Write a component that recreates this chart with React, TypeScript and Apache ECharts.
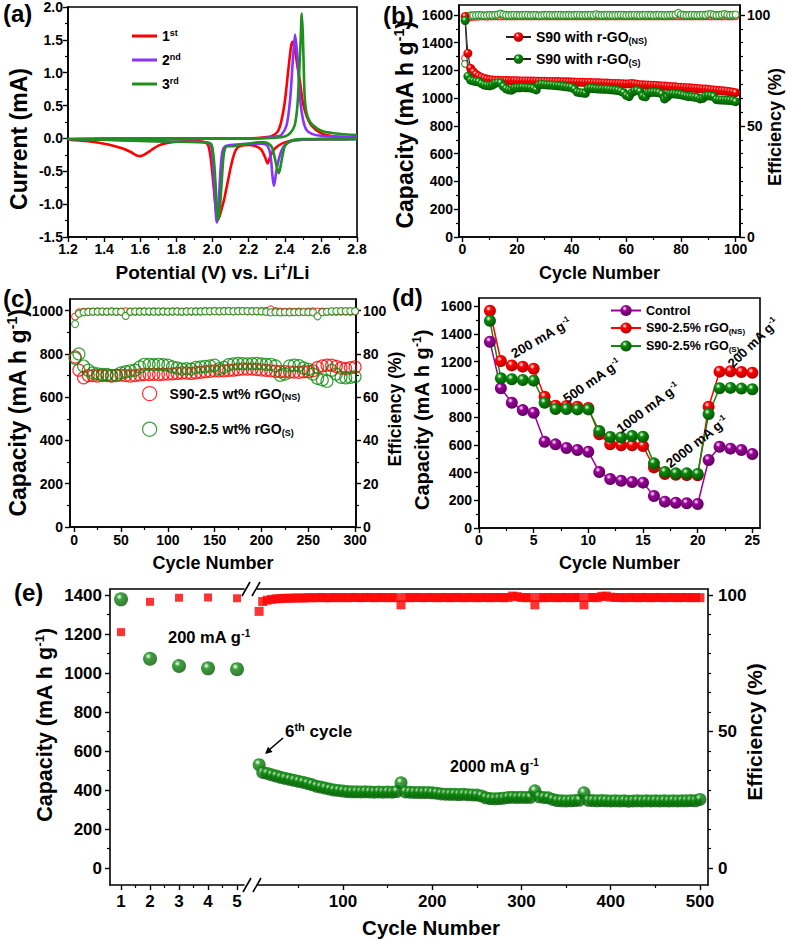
import React, { useEffect, useRef } from 'react';
import * as echarts from 'echarts';

const FONT = '"Liberation Sans", Arial, Helvetica, sans-serif';
const BLACK = '#000000';
const RED = '#ff0000';
const GREEN = '#0a8a0a';
const VIOLET = '#8833ff';
const CV_GREEN = '#1f8f1f';
const PURPLE = '#990099';

// ---------------- (a) cyclic voltammetry (cathodic sweep then anodic sweep) ----------------
const cv1Potential = [2.75, 2.6, 2.5, 2.45, 2.4, 2.37, 2.34, 2.32, 2.305, 2.29, 2.27, 2.24, 2.2, 2.15, 2.13, 2.115, 2.1, 2.08, 2.065, 2.05, 2.04, 2.032, 2.022, 2.012, 2.0, 1.99, 1.98, 1.97, 1.95, 1.9, 1.8, 1.75, 1.7, 1.66, 1.62, 1.6, 1.58, 1.55, 1.5, 1.45, 1.4, 1.3, 1.2,
  1.2, 1.4, 1.6, 1.8, 2.0, 2.2, 2.3, 2.33, 2.36, 2.38, 2.4, 2.42, 2.435, 2.443, 2.455, 2.47, 2.485, 2.5, 2.52, 2.55, 2.6, 2.65, 2.7, 2.75];
const cv1Current = [-0.01, -0.01, -0.02, -0.03, -0.06, -0.1, -0.17, -0.27, -0.38, -0.28, -0.17, -0.12, -0.1, -0.12, -0.17, -0.28, -0.45, -0.72, -0.92, -1.08, -1.18, -1.22, -1.15, -0.9, -0.55, -0.3, -0.14, -0.08, -0.05, -0.04, -0.05, -0.07, -0.11, -0.18, -0.25, -0.27, -0.26, -0.21, -0.15, -0.11, -0.08, -0.04, -0.02,
  -0.02, -0.01, 0.0, 0.0, 0.0, 0.0, 0.02, 0.04, 0.1, 0.25, 0.55, 1.05, 1.4, 1.47, 1.38, 1.1, 0.85, 0.55, 0.35, 0.19, 0.08, 0.04, 0.02, 0.01];
const cv2Potential = [2.8, 2.6, 2.5, 2.45, 2.42, 2.4, 2.38, 2.36, 2.345, 2.34, 2.333, 2.325, 2.315, 2.3, 2.27, 2.2, 2.15, 2.1, 2.07, 2.055, 2.045, 2.037, 2.03, 2.025, 2.02, 2.013, 2.005, 1.998, 1.99, 1.97, 1.9, 1.8, 1.6, 1.4, 1.2,
  1.2, 1.6, 2.0, 2.2, 2.3, 2.35, 2.38, 2.41, 2.43, 2.445, 2.457, 2.47, 2.485, 2.5, 2.52, 2.55, 2.6, 2.7, 2.8];
const cv2Current = [-0.01, -0.01, -0.02, -0.03, -0.06, -0.1, -0.2, -0.4, -0.65, -0.72, -0.6, -0.35, -0.18, -0.1, -0.08, -0.08, -0.09, -0.1, -0.12, -0.2, -0.45, -0.85, -1.15, -1.28, -1.2, -0.9, -0.5, -0.22, -0.1, -0.06, -0.05, -0.05, -0.03, -0.02, -0.01,
  -0.01, 0.0, 0.0, 0.0, 0.01, 0.03, 0.05, 0.2, 0.6, 1.2, 1.58, 1.25, 0.6, 0.3, 0.13, 0.07, 0.04, 0.03, 0.02];
const cv3Potential = [2.8, 2.6, 2.5, 2.45, 2.42, 2.4, 2.385, 2.375, 2.367, 2.357, 2.345, 2.33, 2.31, 2.28, 2.25, 2.2, 2.15, 2.1, 2.085, 2.07, 2.06, 2.05, 2.04, 2.032, 2.025, 2.018, 2.01, 2.0, 1.99, 1.95, 1.8, 1.6, 1.4, 1.2,
  1.2, 1.6, 2.0, 2.2, 2.35, 2.4, 2.43, 2.455, 2.47, 2.48, 2.488, 2.494, 2.5, 2.505, 2.51, 2.52, 2.54, 2.58, 2.62, 2.67, 2.75, 2.8];
const cv3Current = [-0.01, -0.01, -0.01, -0.02, -0.06, -0.12, -0.3, -0.45, -0.53, -0.45, -0.3, -0.14, -0.08, -0.06, -0.06, -0.08, -0.1, -0.12, -0.12, -0.15, -0.3, -0.7, -1.1, -1.24, -1.1, -0.75, -0.4, -0.15, -0.08, -0.06, -0.05, -0.04, -0.02, -0.01,
  -0.01, 0.0, 0.0, 0.0, 0.01, 0.03, 0.08, 0.2, 0.5, 1.0, 1.5, 1.9, 1.6, 1.1, 0.65, 0.4, 0.25, 0.15, 0.1, 0.08, 0.06, 0.05];
const cvNames = ['1st', '2nd', '3rd'];
const cvLegendLabels = ['1{sup|st}', '2{sup|nd}', '3{sup|rd}'];
const aXTicks = [1.2, 1.4, 1.6, 1.8, 2.0, 2.2, 2.4, 2.6, 2.8];
const aXMinor = [1.3, 1.5, 1.7, 1.9, 2.1, 2.3, 2.5, 2.7];
const aYTicks = [-1.5, -1.0, -0.5, 0.0, 0.5, 1.0, 1.5, 2.0];
const aYMinor = [-1.25, -0.75, -0.25, 0.25, 0.75, 1.25, 1.75];

// ---------------- (b) cycling at each cycle 1..100 ----------------
const bCapNS = [1590, 1324, 1216, 1190, 1172, 1160, 1150, 1143, 1138, 1134,
  1132, 1130, 1130, 1128, 1128, 1127, 1127, 1126, 1126, 1126,
  1125, 1125, 1125, 1124, 1124, 1124, 1123, 1123, 1122, 1122,
  1121, 1121, 1120, 1120, 1120, 1119, 1119, 1118, 1118, 1117,
  1117, 1116, 1116, 1115, 1114, 1114, 1113, 1112, 1112, 1111,
  1110, 1110, 1109, 1108, 1107, 1106, 1106, 1105, 1104, 1103,
  1104, 1106, 1104, 1100, 1098, 1097, 1096, 1095, 1094, 1093,
  1092, 1090, 1089, 1088, 1086, 1085, 1083, 1082, 1080, 1079,
  1078, 1076, 1075, 1073, 1072, 1070, 1069, 1067, 1066, 1064,
  1062, 1060, 1058, 1056, 1054, 1052, 1050, 1047, 1044, 1040];
const bCapS = [1560, 1158, 1130, 1125, 1120, 1118, 1105, 1095, 1092, 1090,
  1095, 1108, 1112, 1110, 1085, 1068, 1060, 1058, 1072, 1075,
  1075, 1078, 1076, 1075, 1074, 1070, 1060, 1095, 1100, 1098,
  1096, 1095, 1094, 1092, 1090, 1088, 1085, 1082, 1080, 1078,
  1065, 1045, 1040, 1038, 1036, 1068, 1072, 1070, 1068, 1066,
  1066, 1064, 1065, 1062, 1060, 1058, 1055, 1050, 1040, 1020,
  1012, 1040, 1052, 1055, 1048, 1015, 1010, 1038, 1042, 1043,
  1042, 1040, 1030, 995, 1010, 1030, 1032, 1030, 1028, 1025,
  1020, 1015, 1012, 1010, 1008, 1005, 995, 1000, 1015, 1018,
  1016, 1012, 990, 988, 987, 986, 985, 984, 982, 975];
const bEffNS = [80.5, 98.7, 99.1, 99.2, 99.3, 99.3, 99.4, 99.4, 99.3, 99.4,
  99.4, 99.5, 99.4, 99.4, 99.5, 99.4, 99.5, 99.4, 99.4, 99.5,
  99.5, 99.4, 99.5, 99.5, 99.4, 99.5, 99.5, 99.4, 99.5, 99.5,
  99.4, 99.5, 99.5, 99.5, 99.4, 99.5, 99.5, 99.4, 99.5, 99.5,
  99.5, 99.4, 99.5, 99.5, 99.5, 99.4, 99.5, 99.5, 99.4, 99.5,
  99.5, 99.5, 99.4, 99.5, 99.5, 99.4, 99.5, 99.5, 99.5, 99.4,
  99.5, 99.5, 99.4, 99.5, 99.5, 99.5, 99.4, 99.5, 99.5, 99.4,
  99.5, 99.5, 99.5, 99.4, 99.5, 99.5, 99.4, 99.5, 99.5, 99.5,
  99.4, 99.5, 99.5, 99.4, 99.5, 99.5, 99.5, 99.4, 99.5, 99.5,
  99.4, 99.5, 99.5, 99.5, 99.4, 99.5, 99.5, 99.4, 99.5, 99.5];
const bEffS = [78.0, 99.5, 99.8, 99.9, 99.9, 100.0, 99.9, 99.8, 99.9, 100.0,
  99.9, 100.1, 100.2, 100.6, 100.2, 100.0, 99.9, 100.0, 100.1, 100.0,
  99.9, 100.0, 100.1, 100.0, 99.9, 100.0, 100.0, 99.8, 99.9, 100.0,
  100.1, 100.0, 99.9, 100.0, 100.1, 100.0, 99.9, 100.0, 100.0, 99.9,
  100.0, 100.1, 100.0, 99.9, 100.0, 100.0, 100.1, 100.0, 100.3, 100.0,
  99.9, 100.0, 100.1, 100.0, 99.9, 100.0, 100.0, 100.1, 100.0, 99.9,
  100.0, 100.0, 100.1, 100.0, 99.9, 100.0, 100.1, 100.0, 100.0, 99.9,
  100.0, 100.1, 100.0, 99.9, 100.0, 100.0, 100.1, 100.2, 100.9, 100.2,
  100.0, 99.9, 100.0, 100.1, 100.0, 99.9, 100.0, 100.1, 100.0, 100.3,
  100.4, 100.1, 99.9, 100.0, 100.2, 100.4, 100.1, 100.0, 100.1, 100.2];
const bNames = ['S90 with r-GO(NS)', 'S90 with r-GO(S)'];
const bXTicks = [0, 20, 40, 60, 80, 100];
const bXMinor = [10, 30, 50, 70, 90];
const bYTicks = [0, 200, 400, 600, 800, 1000, 1200, 1400, 1600];
const bYMinor = [100, 300, 500, 700, 900, 1100, 1300, 1500];
const bRTicks = [0, 50, 100];
const bRMinor = [6.25, 12.5, 18.75, 25, 31.25, 37.5, 43.75, 56.25, 62.5, 68.75, 75, 81.25, 87.5, 93.75];

// ---------------- (c) 300 cycles, read at cycles 1, 5, 10 ... 300 ----------------
const cCycles = [1, ...Array.from({ length: 60 }, (_, i) => (i + 1) * 5)];
const cCapNS = [786, 725, 690, 700, 700, 698, 700, 700, 698, 700,
  702, 700, 698, 700, 703, 705, 705, 706, 705, 706,
  707, 708, 710, 712, 712, 710, 713, 715, 718, 720,
  722, 722, 722, 724, 725, 728, 730, 730, 730, 728,
  726, 724, 722, 720, 718, 718, 716, 716, 715, 717,
  718, 722, 738, 745, 748, 748, 742, 735, 732, 736, 740];
const cCapS = [780, 800, 744, 725, 712, 708, 705, 705, 700, 702,
  712, 718, 722, 725, 740, 752, 752, 750, 752, 750,
  748, 740, 735, 730, 732, 730, 738, 740, 742, 745,
  748, 732, 738, 750, 754, 756, 755, 754, 755, 756,
  754, 752, 752, 745, 701, 707, 745, 748, 746, 735,
  729, 707, 687, 680, 674, 724, 707, 692, 690, 692, 695];
const cEffNS = [97.3, 99.2, 99.5, 99.6, 99.6, 99.7, 99.6, 99.6, 99.7, 99.6,
  99.6, 99.7, 99.6, 99.6, 99.7, 99.7, 99.6, 99.7, 99.6, 99.7,
  99.6, 99.7, 99.7, 99.6, 99.7, 99.6, 99.7, 99.7, 99.8, 99.7,
  99.8, 99.7, 99.8, 99.8, 99.7, 99.8, 99.8, 99.7, 99.8, 99.7,
  99.8, 99.9, 100.6, 99.8, 99.6, 99.5, 99.6, 99.5, 99.6, 99.5,
  99.6, 99.7, 99.6, 99.6, 99.5, 99.6, 99.5, 99.6, 99.6, 99.5, 99.6];
const cEffS = [93.8, 98.6, 99.3, 99.4, 99.5, 99.5, 99.6, 99.5, 99.6, 99.5,
  99.5, 97.6, 99.5, 99.6, 99.5, 99.6, 99.6, 99.5, 99.6, 99.6,
  99.5, 99.6, 99.6, 99.5, 99.6, 99.7, 99.6, 99.6, 99.7, 99.7,
  99.8, 99.7, 99.8, 99.8, 99.7, 99.8, 99.8, 99.8, 99.7, 99.8,
  99.6, 99.4, 99.2, 99.3, 99.2, 99.3, 99.2, 99.3, 99.3, 99.4,
  99.3, 99.2, 97.4, 99.3, 99.5, 99.7, 99.8, 99.8, 99.8, 99.8, 99.8];
const cNames = ['S90-2.5 wt% rGO(NS)', 'S90-2.5 wt% rGO(S)'];
const cXTicks = [0, 50, 100, 150, 200, 250, 300];
const cXMinor = [25, 75, 125, 175, 225, 275];
const cYTicks = [0, 200, 400, 600, 800, 1000];
const cYMinor = [100, 300, 500, 700, 900];
const cRTicks = [0, 20, 40, 60, 80, 100];
const cRMinor = [10, 30, 50, 70, 90];

// ---------------- (d) rate capability ----------------
const dCycles = [1, 2, 3, 4, 5, 6, 7, 8, 9, 10, 11, 12, 13, 14, 15, 16, 17, 18, 19, 20, 21, 22, 23, 24, 25];
const dControl = [1343, 1007, 903, 850, 831, 622, 603, 577, 562, 550, 404, 353, 341, 332, 327, 231, 190, 182, 178, 173, 490, 586, 572, 562, 533];
const dNS = [1566, 1204, 1172, 1163, 1148, 946, 882, 879, 874, 865, 675, 603, 596, 596, 591, 437, 389, 384, 381, 380, 874, 1127, 1130, 1125, 1119];
const dS = [1494, 1079, 1072, 1067, 1062, 903, 858, 858, 855, 855, 699, 656, 653, 663, 658, 466, 404, 394, 394, 389, 822, 1007, 1010, 1005, 1000];
const dNames = ['Control', 'S90-2.5% rGO(NS)', 'S90-2.5% rGO(S)'];
const dXTicks = [0, 5, 10, 15, 20, 25];
const dXMinor = [2.5, 7.5, 12.5, 17.5, 22.5];
const dYTicks = [0, 200, 400, 600, 800, 1000, 1200, 1400, 1600];
const dYMinor = [100, 300, 500, 700, 900, 1100, 1300, 1500];

// ---------------- (e) long cycling ----------------
const eCycles1 = [1, 2, 3, 4, 5];
const eCap1 = [1378, 1073, 1036, 1024, 1020];
const eEff1 = [86.4, 97.5, 99.0, 99.1, 98.8];
const eCycles2 = [6, ...Array.from({ length: 99 }, (_, i) => 10 + i * 5)];
const eCap2 = [530,
  490, 485, 478, 472, 465, 460, 455, 450, 445,
  440, 434, 428, 420, 415, 410, 405, 400, 398, 395,
  392, 391, 391, 390, 391, 390, 389, 390, 389, 390,
  389, 392, 437, 390, 389, 388, 388, 387, 388, 386,
  384, 380, 379, 378, 378, 377, 378, 376, 375, 374,
  370, 360, 356, 355, 356, 358, 362, 363, 362, 363,
  362, 363, 396, 365, 362, 360, 352, 346, 345, 344,
  345, 346, 348, 386, 347, 346, 345, 346, 345, 344,
  345, 344, 345, 343, 344, 345, 344, 345, 344, 345,
  344, 345, 344, 345, 344, 345, 345, 346, 345, 352];
const eEff2 = [94.0,
  97.6, 98.1, 98.4, 98.6, 98.7, 98.8, 98.8, 98.9, 98.9,
  98.9, 99.0, 99.0, 99.0, 99.1, 99.0, 99.0, 99.1, 99.0, 99.1,
  99.0, 99.1, 99.1, 99.0, 99.1, 99.1, 99.0, 99.1, 99.1, 99.0,
  99.1, 99.0, 96.4, 99.1, 99.0, 99.1, 99.1, 99.0, 99.1, 99.1,
  99.0, 99.1, 99.1, 99.0, 99.1, 99.1, 99.0, 99.1, 99.1, 99.0,
  99.1, 99.1, 99.0, 99.1, 99.1, 99.0, 99.1, 99.6, 99.4, 99.1,
  99.0, 99.1, 96.4, 99.1, 99.0, 99.1, 99.1, 99.0, 99.1, 99.1,
  99.0, 99.1, 99.1, 96.4, 99.1, 99.1, 99.0, 99.5, 99.6, 99.2,
  99.1, 99.1, 99.0, 99.1, 99.1, 99.0, 99.1, 99.1, 99.0, 99.1,
  99.1, 99.0, 99.1, 99.1, 99.0, 99.1, 99.1, 99.0, 99.1, 99.0];
const eX1Ticks = [1, 2, 3, 4, 5];
const eX1Minor = [1.5, 2.5, 3.5, 4.5];
const eX2Ticks = [100, 200, 300, 400, 500];
const eX2Minor = [50, 150, 250, 350, 450];
const eYTicks = [0, 200, 400, 600, 800, 1000, 1200, 1400];
const eYMinor = [100, 300, 500, 700, 900, 1100, 1300];
const eRTicks = [0, 50, 100];
const eRMinor = [7.14, 14.29, 21.43, 28.57, 35.71, 42.86, 57.14, 64.29, 71.43, 78.57, 85.71, 92.86];

function rich(size: number) {
  const s = Math.round(size * 0.62);
  const p = Math.round(size * 0.5);
  return {
    sup: { fontSize: s, fontWeight: 'bold', fontFamily: FONT, color: BLACK, fill: BLACK, verticalAlign: 'top', padding: [0, 0, p, 0] },
    sub: { fontSize: s, fontWeight: 'bold', fontFamily: FONT, color: BLACK, fill: BLACK, verticalAlign: 'bottom', padding: [p, 0, 0, 0] },
  };
}

function sphere(c: string, dark: string) {
  return {
    type: 'radial', x: 0.38, y: 0.32, r: 0.72,
    colorStops: [
      { offset: 0, color: '#ffffff' },
      { offset: 0.3, color: c },
      { offset: 1, color: dark },
    ],
  };
}

function subName(n: string) {
  return n.replace(/\((NS|S)\)$/, '{sub|($1)}');
}

function buildOption() {
  const xAxes: any[] = [];
  const yAxes: any[] = [];
  const addAxis = (list: any[], o: any) => {
    const idx = list.length;
    const fs = o.fs ?? 14;
    const nfs = o.nameSize ?? 18;
    list.push({
      type: 'value', gridIndex: o.grid, position: o.pos, min: o.min, max: o.max,
      show: o.show !== false,
      axisLine: { show: o.line !== false, onZero: false, lineStyle: { color: BLACK, width: 1.6 } },
      axisTick: o.ticks ? { show: true, inside: false, length: 5, customValues: o.ticks, lineStyle: { color: BLACK, width: 1.4 } } : { show: false },
      axisLabel: o.labels ? {
        show: true, customValues: o.labels, formatter: o.fmt || ((v: number) => String(v)),
        fontSize: fs, fontWeight: 'bold', fontFamily: FONT, color: BLACK, margin: o.margin ?? 6,
      } : { show: false },
      splitLine: { show: false },
      name: o.name || '', nameLocation: 'middle', nameGap: o.nameGap ?? 30, nameMoveOverlap: false,
      nameTextStyle: { fontSize: nfs, fontWeight: 'bold', fontFamily: FONT, color: BLACK, rich: rich(nfs), padding: o.namePad || 0 },
    });
    if (o.minor) {
      list.push({
        type: 'value', gridIndex: o.grid, position: o.pos, min: o.min, max: o.max,
        axisLine: { show: false, onZero: false },
        axisTick: { show: true, inside: false, length: 3, customValues: o.minor, lineStyle: { color: BLACK, width: 1.2 } },
        axisLabel: { show: false }, splitLine: { show: false },
      });
    }
    return idx;
  };
  const fmt1 = (v: number) => v.toFixed(1);

  // (a)
  const ax = addAxis(xAxes, { grid: 0, pos: 'bottom', min: 1.2, max: 2.8, ticks: aXTicks, labels: aXTicks, minor: aXMinor, fmt: fmt1, margin: 5, name: 'Potential (V) vs. Li{sup|+}/Li', nameGap: 24, nameSize: 19 });
  const ay = addAxis(yAxes, { grid: 0, pos: 'left', min: -1.5, max: 2.0, ticks: aYTicks, labels: aYTicks, minor: aYMinor, fmt: fmt1, margin: 5, name: 'Current (mA)', nameGap: 38, nameSize: 23, namePad: [0, 34, 0, 0] });
  // (b)
  const bx = addAxis(xAxes, { grid: 1, pos: 'bottom', min: -1.25, max: 101.6, ticks: bXTicks, labels: bXTicks, minor: bXMinor, margin: 5, name: 'Cycle Number', nameGap: 27, nameSize: 18 });
  const byL = addAxis(yAxes, { grid: 1, pos: 'left', min: 0, max: 1672, ticks: bYTicks, labels: bYTicks, minor: bYMinor, margin: 6, name: 'Capacity (mA h g{sup|-1})', nameGap: 41, nameSize: 23, namePad: [0, 8, 0, 0] });
  const byR = addAxis(yAxes, { grid: 1, pos: 'right', min: 0, max: 104.5, ticks: bRTicks, labels: bRTicks, minor: bRMinor, margin: 7, name: 'Efficiency (%)', nameGap: 26, nameSize: 18, namePad: [0, 12, 0, 0] });
  // (c)
  const cx = addAxis(xAxes, { grid: 2, pos: 'bottom', min: -4.5, max: 301, ticks: cXTicks, labels: cXTicks, minor: cXMinor, margin: 6, name: 'Cycle Number', nameGap: 27, nameSize: 18 });
  const cyL = addAxis(yAxes, { grid: 2, pos: 'left', min: 0, max: 1054, ticks: cYTicks, labels: cYTicks, minor: cYMinor, margin: 7, name: 'Capacity (mA h g{sup|-1})', nameGap: 39, nameSize: 23 });
  const cyR = addAxis(yAxes, { grid: 2, pos: 'right', min: 0, max: 105.4, ticks: cRTicks, labels: cRTicks, minor: cRMinor, margin: 7, name: 'Efficiency (%)', nameGap: 30, nameSize: 17.5, namePad: [0, 0, 0, 8] });
  // (d)
  const dx = addAxis(xAxes, { grid: 3, pos: 'bottom', min: 0, max: 25.7, ticks: dXTicks, labels: dXTicks, minor: dXMinor, margin: 5, name: 'Cycle Number', nameGap: 26, nameSize: 18 });
  const dy = addAxis(yAxes, { grid: 3, pos: 'left', min: 0, max: 1658, ticks: dYTicks, labels: dYTicks, minor: dYMinor, margin: 7, name: 'Capacity (mA h g{sup|-1})', nameGap: 46, nameSize: 20, namePad: [0, 14, 0, 0] });
  // (e)
  const ex1 = addAxis(xAxes, { grid: 4, pos: 'bottom', min: 0.62, max: 5.24, ticks: eX1Ticks, labels: eX1Ticks, minor: eX1Minor, fs: 17, margin: 8 });
  addAxis(xAxes, { grid: 4, pos: 'top', min: 0.62, max: 5.24 });
  const ex2 = addAxis(xAxes, { grid: 5, pos: 'bottom', min: 3.6, max: 509, ticks: eX2Ticks, labels: eX2Ticks, minor: eX2Minor, fs: 17, margin: 8 });
  addAxis(xAxes, { grid: 5, pos: 'top', min: 3.6, max: 509 });
  const eyCap1 = addAxis(yAxes, { grid: 4, pos: 'left', min: -87, max: 1431, ticks: eYTicks, labels: eYTicks, minor: eYMinor, fs: 17, margin: 8, name: 'Capacity (mA h g{sup|-1})', nameGap: 53, nameSize: 21.5, namePad: [0, 0, 0, 24] });
  const eyEff1 = addAxis(yAxes, { grid: 4, pos: 'right', min: -6.21, max: 102.2, show: false });
  const eyEff2 = addAxis(yAxes, { grid: 5, pos: 'right', min: -6.21, max: 102.2, ticks: eRTicks, labels: eRTicks, minor: eRMinor, fs: 17, margin: 10, name: 'Efficiency (%)', nameGap: 36, nameSize: 21, namePad: [0, 0, 0, 10] });
  const eyCap2 = addAxis(yAxes, { grid: 5, pos: 'left', min: -87, max: 1431, show: false });

  const series: any[] = [];
  // (a)
  const cvSets: any[] = [[cv1Potential, cv1Current, RED], [cv2Potential, cv2Current, VIOLET], [cv3Potential, cv3Current, CV_GREEN]];
  cvSets.forEach(([V, I, col], k) => {
    series.push({
      type: 'line', name: cvNames[k], xAxisIndex: ax, yAxisIndex: ay,
      data: V.map((v: number, i: number) => [v, I[i]]),
      showSymbol: false, symbol: 'none', smooth: 0.25,
      lineStyle: { color: col, width: 2.6 }, itemStyle: { color: col },
    });
  });
  // (b)
  series.push({ type: 'scatter', name: 'b-eff-NS', xAxisIndex: bx, yAxisIndex: byR, data: bEffNS.map((v, i) => [i + 1, v]), symbol: 'circle', symbolSize: 7, itemStyle: { color: '#ffffff', borderColor: RED, borderWidth: 1.2 } });
  series.push({ type: 'scatter', name: 'b-eff-S', xAxisIndex: bx, yAxisIndex: byR, data: bEffS.map((v, i) => [i + 1, v]), symbol: 'circle', symbolSize: 7, itemStyle: { color: '#ffffff', borderColor: GREEN, borderWidth: 1.2 } });
  series.push({ type: 'line', name: bNames[0], xAxisIndex: bx, yAxisIndex: byL, data: bCapNS.map((v, i) => [i + 1, v]), symbol: 'circle', symbolSize: 9, showAllSymbol: true, lineStyle: { color: '#222', width: 1 }, itemStyle: { color: sphere(RED, '#b00000') } });
  series.push({ type: 'line', name: bNames[1], xAxisIndex: bx, yAxisIndex: byL, data: bCapS.map((v, i) => [i + 1, v]), symbol: 'circle', symbolSize: 9, showAllSymbol: true, lineStyle: { color: '#222', width: 1 }, itemStyle: { color: sphere(GREEN, '#055205') } });
  // (c)
  series.push({ type: 'scatter', name: 'c-eff-NS', xAxisIndex: cx, yAxisIndex: cyR, data: cEffNS.map((v, i) => [cCycles[i], v]), symbol: 'circle', symbolSize: 7, itemStyle: { color: '#ffffff', borderColor: RED, borderWidth: 1.1 } });
  series.push({ type: 'scatter', name: 'c-eff-S', xAxisIndex: cx, yAxisIndex: cyR, data: cEffS.map((v, i) => [cCycles[i], v]), symbol: 'circle', symbolSize: 7, itemStyle: { color: '#ffffff', borderColor: GREEN, borderWidth: 1.1 } });
  series.push({ type: 'scatter', name: cNames[0], xAxisIndex: cx, yAxisIndex: cyL, data: cCapNS.map((v, i) => [cCycles[i], v]), symbol: 'circle', symbolSize: 12, itemStyle: { color: 'rgba(255,255,255,0)', borderColor: RED, borderWidth: 1.2 } });
  series.push({ type: 'scatter', name: cNames[1], xAxisIndex: cx, yAxisIndex: cyL, data: cCapS.map((v, i) => [cCycles[i], v]), symbol: 'circle', symbolSize: 12, itemStyle: { color: 'rgba(255,255,255,0)', borderColor: GREEN, borderWidth: 1.2 } });
  // (d)
  const dSets: any[] = [[dControl, PURPLE, '#5a005a'], [dNS, RED, '#b00000'], [dS, GREEN, '#055205']];
  dSets.forEach(([vals, col, dark], k) => {
    series.push({
      type: 'line', name: dNames[k], xAxisIndex: dx, yAxisIndex: dy,
      data: vals.map((v: number, i: number) => [dCycles[i], v]),
      symbol: 'circle', symbolSize: 12, lineStyle: { color: col, width: 1.5 }, itemStyle: { color: sphere(col, dark) },
    });
  });
  // (e)
  series.push({ type: 'scatter', name: 'e-eff-1', xAxisIndex: ex1, yAxisIndex: eyEff1, data: eEff1.map((v, i) => [eCycles1[i], v]), symbol: 'rect', symbolSize: 8, itemStyle: { color: RED } });
  series.push({ type: 'scatter', name: 'e-cap-1', xAxisIndex: ex1, yAxisIndex: eyCap1, data: eCap1.map((v, i) => [eCycles1[i], v]), symbol: 'circle', symbolSize: 14, itemStyle: { color: sphere(GREEN, '#055205') } });
  series.push({ type: 'scatter', name: 'e-eff-2', xAxisIndex: ex2, yAxisIndex: eyEff2, data: eEff2.map((v, i) => [eCycles2[i], v]), symbol: 'rect', symbolSize: 9, itemStyle: { color: RED } });
  series.push({ type: 'scatter', name: 'e-cap-2', xAxisIndex: ex2, yAxisIndex: eyCap2, data: eCap2.map((v, i) => [eCycles2[i], v]), symbol: 'circle', symbolSize: 13, itemStyle: { color: sphere(GREEN, '#055205') } });

  const legendText = (size: number) => ({ fontSize: size, fontWeight: 'bold', fontFamily: FONT, color: BLACK, rich: rich(size) });
  const legend = [
    {
      data: cvNames, orient: 'vertical', left: 127, top: 23, itemWidth: 25, itemHeight: 3, icon: 'rect', itemGap: 9, selectedMode: false,
      formatter: (n: string) => cvLegendLabels[cvNames.indexOf(n)], textStyle: legendText(14),
    },
    {
      data: bNames, orient: 'vertical', left: 500, top: 25, itemWidth: 25, itemHeight: 12, itemGap: 7, selectedMode: false,
      formatter: subName, textStyle: legendText(14),
    },
    {
      data: [
        { name: cNames[0], icon: 'circle', itemStyle: { color: '#ffffff', borderColor: RED, borderWidth: 1.2 } },
        { name: cNames[1], icon: 'circle', itemStyle: { color: '#ffffff', borderColor: GREEN, borderWidth: 1.2 } },
      ],
      orient: 'vertical', left: 137, top: 381, itemWidth: 30, itemHeight: 14, itemGap: 20, selectedMode: false,
      formatter: subName, textStyle: legendText(14),
    },
    {
      data: dNames, orient: 'vertical', left: 605, top: 299, itemWidth: 30, itemHeight: 14, itemGap: 4.5, selectedMode: false,
      formatter: subName, textStyle: legendText(12.5),
    },
  ];

  const txt = (x: number, y: number, text: string, size: number, rot = 0, align = 'left') => ({
    type: 'text', x, y, rotation: rot, z: 100,
    style: {
      text, fontSize: size, fontWeight: 'bold', fontFamily: FONT, fill: BLACK,
      align, textAlign: align, verticalAlign: 'middle', textVerticalAlign: 'middle', rich: rich(size),
    },
  });
  const seg = (x1: number, y1: number, x2: number, y2: number) => ({
    type: 'line', z: 100, shape: { x1, y1, x2, y2 }, style: { stroke: BLACK, lineWidth: 1.6 },
  });
  const deg = Math.PI / 180;

  const graphic = [
    txt(3, 13, '(a)', 24), txt(383, 15, '(b)', 24), txt(3, 298, '(c)', 24), txt(392, 297, '(d)', 24), txt(14, 592, '(e)', 24),
    txt(541, 338, '200 mA g{sup|-1}', 13.5, 30 * deg, 'center'),
    txt(592, 381, '500 mA g{sup|-1}', 13.5, 35 * deg, 'center'),
    txt(648, 408, '1000 mA g{sup|-1}', 13.5, 37 * deg, 'center'),
    txt(697, 442, '2000 mA g{sup|-1}', 13.5, 38 * deg, 'center'),
    txt(753, 343, '200 mA g{sup|-1}', 13, 44 * deg, 'center'),
    txt(168, 637, '200 mA g{sup|-1}', 16.5),
    txt(450, 766, '2000 mA g{sup|-1}', 16),
    txt(285, 731, '6{sup|th} cycle', 17),
    txt(431, 927, 'Cycle Number', 20.5, 0, 'center'),
    seg(283, 738, 269, 750),
    { type: 'polygon', z: 100, shape: { points: [[265, 754], [272.6, 752.0], [268.0, 746.8]] }, style: { fill: BLACK } },
    seg(242, 596, 250, 582), seg(252, 596, 260, 582),
    seg(243, 892, 251, 878), seg(253, 892, 261, 878),
  ];

  const gridDefs = [
    { left: 68, top: 7, width: 289, height: 230 },
    { left: 459, top: 5, width: 281, height: 232 },
    { left: 70, top: 299, width: 286, height: 228 },
    { left: 479, top: 298, width: 281, height: 230 },
    { left: 110, top: 589, width: 134, height: 296 },
    { left: 257, top: 589, width: 451, height: 296 },
  ];
  const grid = gridDefs.map((g, i) => ({
    ...g, show: i < 4, borderColor: BLACK, borderWidth: 1.6, backgroundColor: 'transparent',
    containLabel: false, outerBoundsMode: 'none',
  }));

  return {
    animation: false,
    backgroundColor: '#ffffff',
    textStyle: { fontFamily: FONT },
    grid, xAxis: xAxes, yAxis: yAxes, series, legend, graphic,
    tooltip: { show: false },
  };
}

export default function App() {
  const ref = useRef<HTMLDivElement>(null);
  useEffect(() => {
    if (!ref.current) return;
    const chart = echarts.init(ref.current, null, { renderer: 'svg' });
    chart.setOption(buildOption() as any);
    return () => chart.dispose();
  }, []);
  return <div ref={ref} style={{ position: 'absolute', left: 0, top: 0, width: 787, height: 939, background: '#fff' }} />;
}
